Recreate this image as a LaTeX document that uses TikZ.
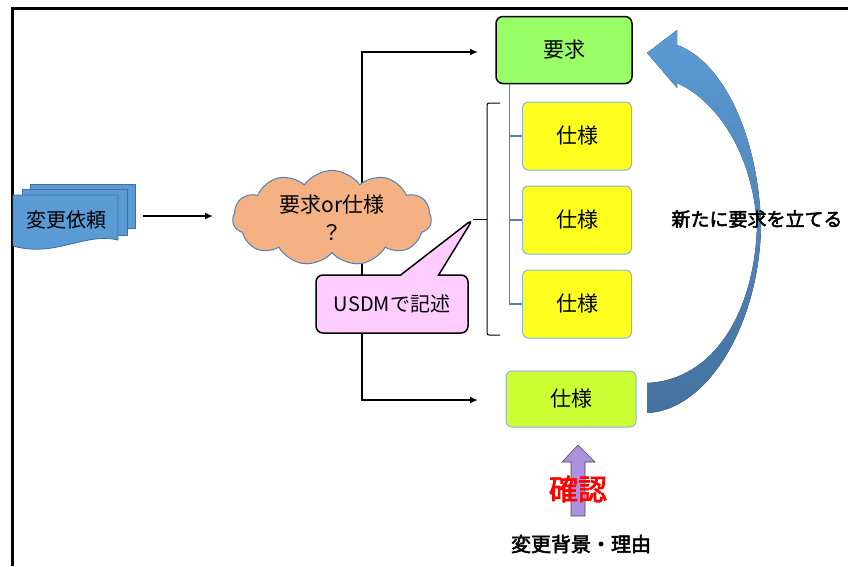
\documentclass[tikz,border=0pt]{standalone}
\usepackage{fontspec}
\setmainfont{Noto Sans CJK JP}
\newfontfamily\boldjp{Noto Sans CJK JP}[FakeBold=2.5]
\usetikzlibrary{arrows.meta,shapes.symbols,shapes.callouts}
\definecolor{docblue}{HTML}{5B9BD5}
\definecolor{docedge}{HTML}{41719C}
\definecolor{cloudfill}{HTML}{F4B183}
\definecolor{treeblue}{HTML}{4F81BD}
\definecolor{reqgreen}{HTML}{99FF66}
\definecolor{specyellow}{HTML}{FFFF1F}
\definecolor{speclime}{HTML}{CCFF33}
\definecolor{specedge}{HTML}{8DB3E2}
\definecolor{callpink}{HTML}{FFCCFF}
\definecolor{arrowtop}{HTML}{5B9BD5}
\definecolor{arrowbot}{HTML}{44719F}
\definecolor{checkpurple}{HTML}{AB91E0}
\begin{document}
\begin{tikzpicture}[
        x=1pt, y=-1pt,
        every node/.style={font=\fontsize{20}{28}\selectfont},
        conn/.style={line width=2pt, -{Latex[length=8pt,width=7pt]}},
        docsheet/.style={draw=docedge, fill=docblue, line width=0.8pt},
        specbox/.style={
            draw=specedge,
            line width=1pt,
            fill=specyellow,
            rounded corners=6pt,
            minimum width=109pt,
            minimum height=68pt,
            font=\fontsize{21}{28}\selectfont},
        tree/.style={draw=treeblue, line width=1.5pt}]
    \useasboundingbox (0,0) rectangle (848,566);
    \draw[line width=3pt] (848,8) -- (12,8) -- (12,566);

    % change request sheets
    \draw[docsheet] (30,184) rectangle (135,228);
    \draw[docsheet] (22,189) rectangle (127,235);
    \draw[docsheet] (13,246) -- (13,195) -- (118,195) -- (118,240)
        .. controls (85,232) and (55,258) .. (13,246) -- cycle;
    \node (doc) at (66,220) {変更依頼};

    \coordinate (docout) at (143,216);
    \coordinate (cloudin) at (213,216);
    \draw[conn] (docout) -- (cloudin);

    \coordinate (fork) at (362,216);
    \coordinate (reqin) at (478,52);
    \coordinate (specin) at (478,400);
    \draw[conn] (fork) |- (reqin);
    \draw[conn] (fork) |- (specin);

    \node[cloud, cloud puffs=11, cloud puff arc=110, aspect=2.1,
        draw=treeblue, fill=cloudfill, line width=1pt,
        minimum width=199pt, minimum height=94pt, align=center,
        font=\fontsize{21}{28}\selectfont]
        (cloud) at (332,218) {要求or仕様\\？};

    \node[draw, line width=1.5pt, fill=reqgreen, rounded corners=7pt,
        minimum width=136pt, minimum height=67pt,
        font=\fontsize{21}{28}\selectfont] (req) at (564,50) {要求};
    \node[specbox] (spec1) at (577,136) {仕様};
    \node[specbox] (spec2) at (577,220) {仕様};
    \node[specbox] (spec3) at (577,304) {仕様};
    \node[specbox, fill=speclime, minimum width=130pt, minimum height=56pt]
        (spec) at (571,399) {仕様};

    \draw[tree] ([xshift=14pt]req.south west) |- (spec3.west);
    \draw[tree] ([xshift=14pt]req.south west) |- (spec1.west);
    \draw[tree] ([xshift=14pt]req.south west) |- (spec2.west);

    % bracket and callout
    \coordinate (brtop) at (500,103);
    \coordinate (brbot) at (500,335);
    \coordinate (brmid) at (487,219);
    \coordinate (tip) at (473,219);
    \draw[line width=1pt, rounded corners=2pt] (brtop) -- ++(-13,0) |- (brbot);
    \draw[line width=1pt] (tip) -- (brmid);
    \node[rectangle callout, callout absolute pointer={(tip)},
        callout pointer width=38pt, draw, line width=1.5pt, fill=callpink,
        rounded corners=7pt, minimum width=152pt, minimum height=58pt]
        (usdm) at (392,304) {USDMで記述};

    % new requirement arrow
    \fill[top color=arrowtop, bottom color=arrowbot]
        (647,53) -- (677,30) -- (677,45)
        .. controls (720,60) and (758,130) .. (761,225)
        .. controls (760,320) and (710,410) .. (647,413) -- (647,383)
        .. controls (715,380) and (755,310) .. (757,225)
        .. controls (752,150) and (715,100) .. (677,83) -- (677,88) -- cycle;
    \node[font=\boldjp\fontsize{19}{22}\selectfont] (newreq) at (757,219) {新たに要求を立てる};

    % confirmation
    \draw[draw=black!70, fill=checkpurple, line width=0.6pt]
        (571,516) -- (571,462) -- (562,462) -- (578,445) -- (595,462)
        -- (585,462) -- (585,516) -- cycle;
    \node[font=\boldjp\fontsize{29}{32}\selectfont, text=red] (check) at (578,489) {確認};
    \node[font=\boldjp\fontsize{20}{24}\selectfont] (why) at (581,544) {変更背景・理由};
\end{tikzpicture}
\end{document}
